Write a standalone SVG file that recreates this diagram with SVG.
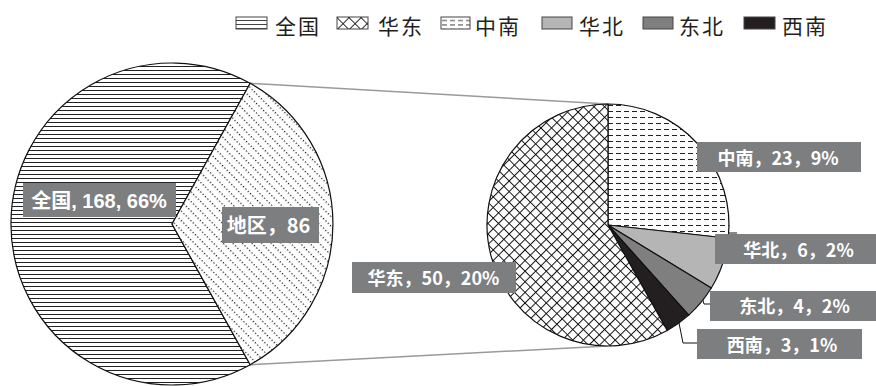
<svg xmlns="http://www.w3.org/2000/svg" width="876" height="386" viewBox="0 0 876 386">
<defs>
<pattern id="pH" width="8" height="4" patternUnits="userSpaceOnUse"><rect width="8" height="4" fill="#fff"/><line x1="0" y1="2.5" x2="8" y2="2.5" stroke="#222" stroke-width="1"/></pattern>
<pattern id="pDot" width="3.3" height="6.8" patternUnits="userSpaceOnUse" patternTransform="rotate(45)"><rect width="3.3" height="6.8" fill="#fff"/><rect x="0" y="0" width="1.2" height="1.2" fill="#111"/></pattern>
<pattern id="pDash" width="8" height="6" patternUnits="userSpaceOnUse"><rect width="8" height="6" fill="#fff"/><line x1="0" y1="3.5" x2="5" y2="3.5" stroke="#222" stroke-width="1"/></pattern>
<pattern id="pX" width="7.5" height="7.5" patternUnits="userSpaceOnUse" patternTransform="rotate(45)"><rect width="7.5" height="7.5" fill="#fff"/><path d="M0,0.5 H7.5 M0.5,0 V7.5" stroke="#111" stroke-width="1"/></pattern>
<pattern id="pXL" width="8.5" height="8.5" patternUnits="userSpaceOnUse" patternTransform="translate(337,17) rotate(45)"><rect width="8.5" height="8.5" fill="#fff"/><path d="M0,0.5 H8.5 M0.5,0 V8.5" stroke="#222" stroke-width="1"/></pattern>
<pattern id="pHL" width="8" height="4" patternUnits="userSpaceOnUse" patternTransform="translate(0,17)"><rect width="8" height="4" fill="#fff"/><line x1="0" y1="3.5" x2="8" y2="3.5" stroke="#444" stroke-width="1"/></pattern>
<pattern id="pDL" width="8" height="4.5" patternUnits="userSpaceOnUse" patternTransform="translate(441,17)"><rect width="8" height="4.5" fill="#fff"/><line x1="1" y1="3.5" x2="6" y2="3.5" stroke="#444" stroke-width="1"/></pattern>
</defs>
<style>
.legtext{font-family:"Noto Sans CJK SC","Noto Sans",sans-serif;font-size:21px;fill:#231f20;letter-spacing:2px}
.sw{stroke:#444;stroke-width:1}
.slice{stroke:#111;stroke-width:1.2;stroke-linejoin:round}
.box{fill:#7d7e80}
.lbl{font-family:"Noto Sans CJK SC",sans-serif;font-weight:bold;font-size:18px;fill:#fff;text-anchor:middle}
.lblL{font-family:"Liberation Sans","Noto Sans CJK SC",sans-serif;font-weight:bold;font-size:20px;fill:#fff;text-anchor:middle}
.conn{stroke:#9a9a9a;stroke-width:1.5;fill:none}
.lead{stroke:#111;stroke-width:1;fill:none}
</style>
<rect width="876" height="386" fill="#fff"/>
<g id="legend">
<g id="leg-quanguo"><rect class="sw" x="236" y="17" width="31" height="12" fill="url(#pHL)"/><text class="legtext" x="275" y="34">全国</text></g>
<g id="leg-huadong"><rect class="sw" x="337" y="17" width="31" height="12" fill="url(#pXL)"/><text class="legtext" x="378" y="34">华东</text></g>
<g id="leg-zhongnan"><rect class="sw" x="441" y="17" width="29" height="12" fill="url(#pDL)"/><text class="legtext" x="475" y="34">中南</text></g>
<g id="leg-huabei"><rect class="sw" x="542" y="17" width="30" height="12" fill="#b5b5b5"/><text class="legtext" x="579" y="34">华北</text></g>
<g id="leg-dongbei"><rect class="sw" x="643" y="17" width="30" height="12" fill="#7f7f7f"/><text class="legtext" x="679" y="34">东北</text></g>
<g id="leg-xinan"><rect class="sw" x="744" y="17" width="31" height="12" fill="#231f20"/><text class="legtext" x="782" y="34">西南</text></g>
</g>
<g id="connectors">
<line class="conn" x1="250" y1="83.3" x2="608" y2="104"/>
<line class="conn" x1="250" y1="364.7" x2="608" y2="346"/>
<polyline class="lead" points="728,221 728,233 737,233"/>
<polyline class="lead" points="702,297 704,304 710,304"/>
<polyline class="lead" points="679,323 683,343 697,343"/>
</g>
<g id="pie-left">
<g id="slice-quanguo"><path class="slice" fill="url(#pH)" d="M172,224 L250.2,83.3 A161,161 0 1 0 250.2,364.7 Z"/></g>
<g id="slice-diqu"><path class="slice" fill="url(#pDot)" d="M172,224 L250.2,83.3 A161,161 0 0 1 250.2,364.7 Z"/></g>
</g>
<g id="pie-right">
<g id="slice-zhongnan"><path class="slice" fill="url(#pDash)" d="M608,225 L608,104 A121,121 0 0 1 728.27,238.23 Z"/></g>
<g id="slice-huabei"><path class="slice" fill="#b5b5b5" d="M608,225 L728.27,238.23 A121,121 0 0 1 711.29,288.03 Z"/></g>
<g id="slice-dongbei"><path class="slice" fill="#7f7f7f" d="M608,225 L711.29,288.03 A121,121 0 0 1 688.76,315.10 Z"/></g>
<g id="slice-xinan"><path class="slice" fill="#231f20" d="M608,225 L688.76,315.10 A121,121 0 0 1 667.21,330.52 Z"/></g>
<g id="slice-huadong"><path class="slice" fill="url(#pX)" d="M608,225 L667.21,330.52 A121,121 0 1 1 608,104 Z"/></g>
</g>
<g id="labels">
<g id="lbl-quanguo"><rect class="box" x="23" y="183" width="153" height="34"/><text class="lblL" x="99" y="208">全国, 168, 66%</text></g>
<g id="lbl-diqu"><rect class="box" x="222" y="207" width="97" height="36"/><text class="lbl" style="font-size:20px" x="268.5" y="233">地区，86</text></g>
<g id="lbl-zhongnan"><rect class="box" x="697" y="142" width="164" height="30"/><text class="lbl" x="778" y="165">中南，23，9%</text></g>
<g id="lbl-huabei"><rect class="box" x="715" y="234" width="161" height="30"/><text class="lbl" x="798.5" y="257">华北，6，2%</text></g>
<g id="lbl-dongbei"><rect class="box" x="710" y="291" width="166" height="30"/><text class="lbl" x="794.5" y="313">东北，4，2%</text></g>
<g id="lbl-xinan"><rect class="box" x="697" y="329" width="165" height="30"/><text class="lbl" x="782" y="352">西南，3，1%</text></g>
<g id="lbl-huadong"><rect class="box" x="352" y="262" width="164" height="31"/><text class="lbl" x="433.5" y="285">华东，50，20%</text></g>
</g>
</svg>
